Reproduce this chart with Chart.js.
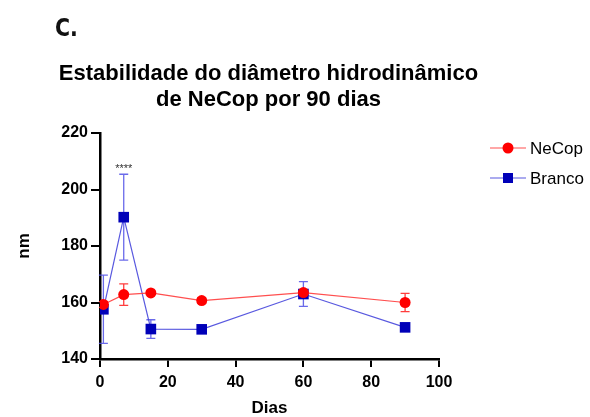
<!DOCTYPE html>
<html>
<head>
<meta charset="utf-8">
<script src="https://cdn.jsdelivr.net/npm/chart.js@4.4.0/dist/chart.umd.min.js"></script>
<style>
  body { margin: 0; background: #fff; }
  #wrap { position: relative; width: 590px; height: 417px; }
</style>
</head>
<body>
<div id="wrap"><canvas id="stabilityChart" width="590" height="417"></canvas></div>
<script>
// Diameter (nm) measured over 90 days
const days = [1, 7, 15, 30, 60, 90];
const necopValues = [159.3, 162.8, 163.4, 160.7, 163.5, 160.0];
const necopErrors = [1.0, 3.8, 0.5, 1.0, 0.6, 3.2];
const brancoValues = [157.6, 190.2, 150.6, 150.5, 163.0, 151.2];
const brancoErrors = [12.1, 15.2, 3.3, 0.4, 4.4, 0.4];
const xTicks = [0, 20, 40, 60, 80, 100];
const yTicks = [140, 160, 180, 200, 220];
const titleLines = ['Estabilidade do diâmetro hidrodinâmico', 'de NeCop por 90 dias'];
const significance = { day: 7, label: '****' };

const FONT = "'Liberation Sans', Arial, sans-serif";

// Error bars drawn behind the markers
const errorBars = {
    id: 'errorBars',
    beforeDatasetsDraw(chart) {
        const ctx = chart.ctx;
        const x = chart.scales.x, y = chart.scales.y;
        chart.data.datasets.forEach(ds => {
            ctx.save();
            ctx.strokeStyle = ds.errorColor;
            ctx.lineWidth = 1.3;
            ds.data.forEach((p, i) => {
                const err = ds.errors[i];
                const px = x.getPixelForValue(p.x);
                const top = y.getPixelForValue(p.y + err);
                const bot = y.getPixelForValue(p.y - err);
                ctx.beginPath();
                ctx.moveTo(px, top); ctx.lineTo(px, bot);
                ctx.moveTo(px - 4.5, top); ctx.lineTo(px + 4.5, top);
                ctx.moveTo(px - 4.5, bot); ctx.lineTo(px + 4.5, bot);
                ctx.stroke();
            });
            ctx.restore();
        });
    }
};

// Panel letter, title, significance mark and legend
const decorations = {
    id: 'decorations',
    afterDraw(chart) {
        const ctx = chart.ctx;
        const area = chart.chartArea;
        const x = chart.scales.x, y = chart.scales.y;
        ctx.save();
        // condensed heavy panel letter
        ctx.save();
        ctx.fillStyle = '#111';
        ctx.font = "bold 25px 'DejaVu Sans', sans-serif";
        ctx.textBaseline = 'alphabetic';
        ctx.textAlign = 'left';
        ctx.translate(55, 36);
        ctx.scale(0.82, 1);
        ctx.fillText('C.', 0, 0);
        ctx.restore();

        ctx.fillStyle = '#000';
        ctx.font = 'bold 22px ' + FONT;
        ctx.textAlign = 'center';
        const cx = (area.left + area.right) / 2 - 1;
        ctx.fillText(titleLines[0], cx, 80);
        ctx.fillText(titleLines[1], cx, 106);

        // significance stars over the day 7 peak
        const i = days.indexOf(significance.day);
        const sx = x.getPixelForValue(significance.day);
        const sy = y.getPixelForValue(brancoValues[i] + brancoErrors[i]) - 6;
        ctx.font = '11px ' + FONT;
        ctx.fillStyle = '#333';
        ctx.fillText(significance.label, sx, sy + 4);

        // legend
        chart.data.datasets.forEach((ds, k) => {
            const ly = 148 + k * 30;
            ctx.strokeStyle = ds.borderColor;
            ctx.lineWidth = 1.2;
            ctx.beginPath();
            ctx.moveTo(490, ly); ctx.lineTo(526, ly);
            ctx.stroke();
            ctx.fillStyle = ds.pointBackgroundColor;
            if (ds.pointStyle === 'rect') {
                ctx.fillRect(503, ly - 5, 10, 10);
            } else {
                ctx.beginPath();
                ctx.arc(508, ly, 5.5, 0, Math.PI * 2);
                ctx.fill();
            }
            ctx.fillStyle = '#000';
            ctx.font = '17px ' + FONT;
            ctx.textAlign = 'left';
            ctx.textBaseline = 'middle';
            ctx.fillText(ds.label, 530, ly + 1);
        });
        ctx.restore();
    }
};

const ctx = document.getElementById('stabilityChart').getContext('2d');
new Chart(ctx, {
    type: 'line',
    data: {
        datasets: [{
            label: 'NeCop',
            data: days.map((d, i) => ({ x: d, y: necopValues[i] })),
            errors: necopErrors,
            errorColor: 'rgba(255, 40, 40, 0.9)',
            borderColor: 'rgba(255, 60, 60, 0.9)',
            borderWidth: 1.2,
            pointStyle: 'circle',
            pointRadius: 5.5,
            pointBackgroundColor: '#ff0000',
            pointBorderColor: '#ff0000',
            pointBorderWidth: 0,
            tension: 0
        }, {
            label: 'Branco',
            data: days.map((d, i) => ({ x: d, y: brancoValues[i] })),
            errors: brancoErrors,
            errorColor: 'rgba(80, 80, 230, 0.85)',
            borderColor: 'rgba(70, 70, 220, 0.9)',
            borderWidth: 1.2,
            pointStyle: 'rect',
            pointRadius: 7.5,
            pointBackgroundColor: '#0000b8',
            pointBorderColor: '#0000b8',
            pointBorderWidth: 0,
            tension: 0
        }]
    },
    options: {
        responsive: false,
        animation: false,
        layout: { padding: { top: 133, right: 151, left: 14, bottom: 0 } },
        plugins: { legend: { display: false }, tooltip: { enabled: false } },
        scales: {
            x: {
                type: 'linear',
                min: 0, max: 100,
                afterBuildTicks: s => { s.ticks = xTicks.map(v => ({ value: v })); },
                afterFit: s => { s.height = 58; },
                grid: { drawOnChartArea: false, color: '#000', lineWidth: 2, tickLength: 8 },
                border: { color: '#000', width: 2.5 },
                ticks: { color: '#000', font: { family: FONT, size: 16, weight: 'bold' }, padding: 6, maxRotation: 0 },
                title: { display: true, text: 'Dias', color: '#000', font: { family: FONT, size: 17, weight: 'bold' }, padding: { top: 9, bottom: -2 } }
            },
            y: {
                min: 140, max: 220,
                afterBuildTicks: s => { s.ticks = yTicks.map(v => ({ value: v })); },
                afterFit: s => { s.width = 86; },
                grid: { drawOnChartArea: false, color: '#000', lineWidth: 2, tickLength: 9 },
                border: { color: '#000', width: 2.5 },
                ticks: { color: '#000', font: { family: FONT, size: 16, weight: 'bold' }, padding: 3 },
                title: { display: true, text: 'nm', color: '#000', font: { family: FONT, size: 17, weight: 'bold' }, padding: { top: 0, bottom: 0 } }
            }
        }
    },
    plugins: [errorBars, decorations]
});
</script>
</body>
</html>
